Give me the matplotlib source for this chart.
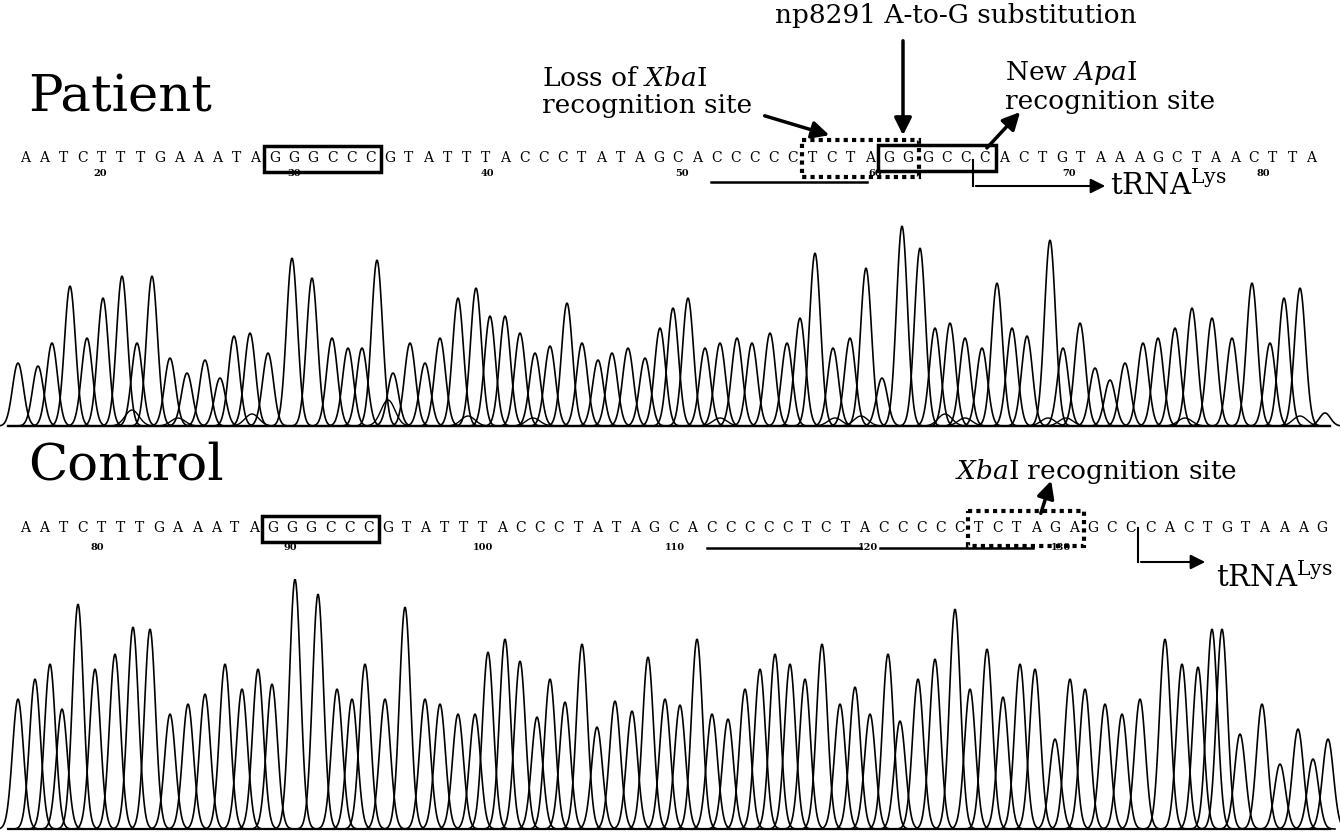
import numpy as np
import matplotlib.pyplot as plt
from matplotlib.patches import Rectangle

plt.rcParams['font.family'] = 'DejaVu Serif'
plt.rcParams['mathtext.fontset'] = 'dejavuserif'

# sequences read under each trace
patient_seq = "AATCTTTGAAATA" + "GGGCCC" + "GTATTTACCCTATAGCA" + "CCCCCTCTA" + "GG" + "GCC" + "CACTGTAAAGCTAACTTA"
control_seq = "AATCTTTGAAATA" + "GGGCCC" + "GTATTTACCCTATAGCA" + "CCCCCTCTA" + "CCCCCTCTA" + "GA" + "GCC" + "CACTGTAAAG"
patient_numbers = [20, 30, 40, 50, 60, 70, 80]
control_numbers = [80, 90, 100, 110, 120, 130]

# chromatogram peaks (scan position, signal height)
patient_peak_x = [18, 38, 52, 70, 87, 103, 122, 137, 152, 170,
                  187, 205, 220, 234, 250, 268, 292, 312, 332, 348,
                  362, 377, 393, 410, 425, 440, 458, 476, 490, 505,
                  520, 535, 550, 567, 582, 598, 612, 628, 645, 660,
                  673, 688, 705, 720, 737, 752, 770, 787, 800, 815,
                  833, 850, 866, 882, 902, 920, 935, 950, 965, 982,
                  997, 1012, 1027, 1050, 1063, 1080, 1095, 1110, 1125, 1143,
                  1158, 1175, 1192, 1212, 1232, 1252, 1270, 1284, 1300, 1325]
patient_peak_h = [63, 60, 83, 140, 88, 128, 150, 83, 150, 68,
                  53, 66, 48, 90, 93, 73, 168, 148, 88, 78,
                  78, 166, 53, 83, 63, 88, 128, 138, 110, 110,
                  93, 73, 80, 123, 83, 66, 73, 78, 68, 98,
                  118, 128, 78, 83, 88, 83, 93, 83, 108, 173,
                  78, 88, 158, 48, 200, 178, 98, 103, 88, 78,
                  143, 98, 90, 186, 78, 103, 58, 46, 63, 83,
                  88, 98, 118, 108, 88, 143, 83, 128, 138, 13]
patient_minor_x = [132, 178, 252, 388, 468, 533, 720, 835, 861, 945, 965, 1048, 1066, 1185, 1300]
patient_minor_h = [16, 8, 12, 26, 10, 8, 8, 8, 10, 12, 8, 8, 8, 8, 10]

control_peak_x = [18, 35, 50, 62, 78, 95, 115, 133, 150, 170,
                  188, 205, 225, 242, 258, 272, 295, 318, 337, 352,
                  365, 385, 405, 425, 440, 458, 475, 488, 505, 520,
                  537, 550, 565, 582, 597, 615, 632, 648, 665, 680,
                  697, 712, 728, 745, 760, 775, 790, 805, 822, 840,
                  855, 870, 888, 900, 918, 935, 955, 970, 987, 1003,
                  1020, 1035, 1055, 1070, 1085, 1105, 1122, 1140, 1165, 1182,
                  1198, 1212, 1222, 1240, 1262, 1280, 1298, 1313, 1328]
control_peak_h = [130, 150, 165, 120, 225, 160, 175, 202, 200, 115,
                  125, 135, 165, 140, 160, 145, 250, 235, 140, 130,
                  165, 130, 222, 130, 125, 115, 115, 177, 190, 168,
                  112, 150, 127, 185, 102, 128, 118, 172, 130, 124,
                  190, 115, 110, 140, 160, 175, 165, 150, 185, 125,
                  142, 115, 175, 108, 150, 170, 220, 140, 180, 132,
                  165, 160, 90, 150, 140, 125, 115, 130, 190, 165,
                  162, 200, 200, 95, 125, 65, 100, 70, 90]

W, H = 1340, 832
fig = plt.figure(figsize=(W / 100, H / 100), dpi=100)
ax = fig.add_axes([0, 0, 1, 1])
ax.set_xlim(0, W)
ax.set_ylim(H, 0)
ax.axis('off')


def draw_trace(axt, xs, hs, sigma=5.5, lw=1.2):
    for x0, h in zip(xs, hs):
        t = np.linspace(x0 - 4 * sigma, x0 + 4 * sigma, 60)
        axt.plot(t, h * np.exp(-(t - x0) ** 2 / (2 * sigma ** 2)), color='k', lw=lw)
    axt.plot([8, 1330], [0, 0], color='k', lw=1.6)


# patient trace: baseline at y=428, control trace: baseline at y=830
ax_p = fig.add_axes([0, (H - 428) / H, 1, 210 / H])
ax_p.set_xlim(0, W); ax_p.set_ylim(-2, 208); ax_p.axis('off')
draw_trace(ax_p, patient_peak_x, patient_peak_h)
draw_trace(ax_p, patient_minor_x, patient_minor_h, sigma=7, lw=1.0)

ax_c = fig.add_axes([0, (H - 831) / H, 1, 252 / H])
ax_c.set_xlim(0, W); ax_c.set_ylim(-2, 250); ax_c.axis('off')
draw_trace(ax_c, control_peak_x, control_peak_h)

ax.set_zorder(3)
ax.patch.set_visible(False)


def base_x(i, step):
    return 25 + i * step


def draw_seq(seq, y, step):
    for i, ch in enumerate(seq):
        ax.text(base_x(i, step), y, ch, ha='center', va='center', fontsize=10)


sp, sc = 19.2, 19.07
draw_seq(patient_seq, 158, sp)
draw_seq(control_seq, 528, sc)

for n in patient_numbers:
    ax.text(base_x(3.9 + (n - 20) * 1.01, sp), 173, str(n), ha='center', va='center', fontsize=7, fontweight='bold')
for n in control_numbers:
    ax.text(base_x(3.8 + (n - 80) * 1.01, sc), 547, str(n), ha='center', va='center', fontsize=7, fontweight='bold')


def box(i0, i1, step, y0, y1, dotted=False):
    x0 = base_x(i0, step) - step / 2 - 1
    x1 = base_x(i1, step) + step / 2 + 1
    ls = (0, (1, 1)) if dotted else '-'
    ax.add_patch(Rectangle((x0, y0), x1 - x0, y1 - y0, fill=False, ec='k',
                           lw=3 if dotted else 2.5, ls=ls))


box(13, 18, sp, 146, 172)
box(41, 46, sp, 140, 177, dotted=True)
box(45, 50, sp, 145, 171)
box(13, 18, sc, 516, 542)
box(50, 55, sc, 511, 546, dotted=True)

# repeat underlines
ax.plot([base_x(36, sp) - 5, base_x(44, sp) - 3], [182, 182], color='k', lw=1.8)
ax.plot([base_x(36, sc) - 5, base_x(44, sc) - 3], [548, 548], color='k', lw=1.8)
ax.plot([base_x(45, sc) - 3, base_x(53, sc) - 3], [548, 548], color='k', lw=1.8)

# tRNA start arrows
arw = dict(arrowstyle='-|>', color='k', lw=1.5, mutation_scale=22)
xp = base_x(50, sp) - 12
ax.plot([xp, xp], [160, 186], color='k', lw=1.5)
ax.annotate('', xy=(1108, 186), xytext=(xp, 186), arrowprops=arw)
ax.text(1110, 186, r'tRNA$^{\mathrm{Lys}}$', fontsize=21, va='center', ha='left')
xc = base_x(59, sc) - 12
ax.plot([xc, xc], [528, 562], color='k', lw=1.5)
ax.annotate('', xy=(1208, 562), xytext=(xc, 562), arrowprops=arw)
ax.text(1216, 578, r'tRNA$^{\mathrm{Lys}}$', fontsize=21, va='center', ha='left')

# titles and annotations
ax.text(28, 98, 'Patient', fontsize=37, va='center', ha='left')
ax.text(28, 466, 'Control', fontsize=37, va='center', ha='left')

big = dict(arrowstyle='-|>', color='k', lw=2.5, mutation_scale=26)
fs = 19
ax.text(775, 16, 'np8291 A-to-G substitution', fontsize=fs, va='center', ha='left')
ax.annotate('', xy=(903, 138), xytext=(903, 38), arrowprops=big)
ax.text(542, 78, r'Loss of $\mathit{Xba}$I', fontsize=fs, va='center', ha='left')
ax.text(542, 106, 'recognition site', fontsize=fs, va='center', ha='left')
ax.annotate('', xy=(832, 136), xytext=(762, 115), arrowprops=big)
ax.text(1005, 73, r'New $\mathit{Apa}$I', fontsize=fs, va='center', ha='left')
ax.text(1005, 102, 'recognition site', fontsize=fs, va='center', ha='left')
ax.annotate('', xy=(1022, 110), xytext=(985, 150), arrowprops=big)
ax.text(955, 472, r'$\mathit{Xba}$I recognition site', fontsize=fs, va='center', ha='left')
ax.annotate('', xy=(1052, 478), xytext=(1040, 516), arrowprops=big)

fig.savefig('out.png', dpi=100, facecolor='white')
